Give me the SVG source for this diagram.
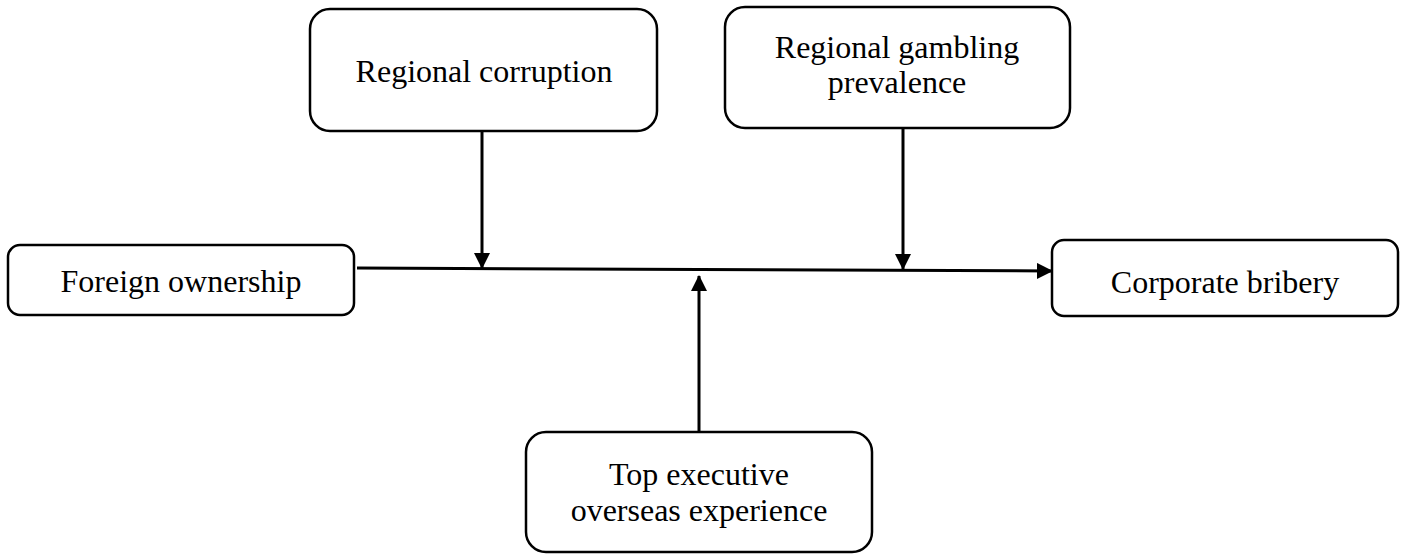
<svg xmlns="http://www.w3.org/2000/svg" width="1405" height="556" viewBox="0 0 1405 556">
<style>
.box{fill:#fff;stroke:#000;stroke-width:2.5}
.t{font-family:"Liberation Serif","Times New Roman",serif;font-size:32px;fill:#000;text-anchor:middle}
.c{stroke:#000;stroke-width:3;fill:none}
</style>
<defs>
<marker id="ah" markerUnits="userSpaceOnUse" markerWidth="16" markerHeight="16" viewBox="0 0 16 16" refX="15" refY="8" orient="auto">
<path d="M0,0 L16,8 L0,16 z" fill="#000"/>
</marker>
</defs>
<rect width="1405" height="556" fill="#fff"/>
<g id="connectors">
<line class="c" x1="357" y1="268" x2="1052" y2="271" marker-end="url(#ah)"/>
<line class="c" x1="482" y1="131" x2="482" y2="268" marker-end="url(#ah)"/>
<line class="c" x1="903" y1="128" x2="903" y2="269" marker-end="url(#ah)"/>
<line class="c" x1="699" y1="432" x2="699" y2="276" marker-end="url(#ah)"/>
</g>
<g id="foreign-ownership">
<rect class="box" x="8" y="245" width="346" height="70" rx="12"/>
<text class="t" x="181" y="292">Foreign ownership</text>
</g>
<g id="corporate-bribery">
<rect class="box" x="1052" y="240" width="346" height="76" rx="12"/>
<text class="t" x="1225" y="293">Corporate bribery</text>
</g>
<g id="regional-corruption">
<rect class="box" x="310" y="9" width="347" height="122" rx="20"/>
<text class="t" x="484" y="82">Regional corruption</text>
</g>
<g id="regional-gambling">
<rect class="box" x="725" y="7" width="345" height="121" rx="20"/>
<text class="t" x="897" y="58">Regional gambling</text>
<text class="t" x="897" y="93">prevalence</text>
</g>
<g id="top-executive">
<rect class="box" x="526" y="432" width="346" height="120" rx="20"/>
<text class="t" x="699" y="485">Top executive</text>
<text class="t" x="699" y="521">overseas experience</text>
</g>
</svg>
